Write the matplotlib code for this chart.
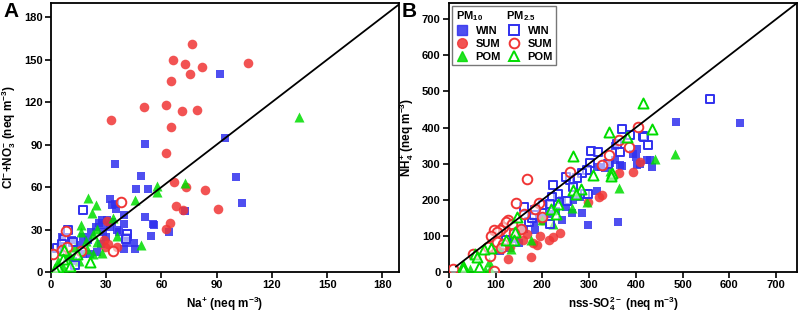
import matplotlib
matplotlib.use("Agg")
import matplotlib.pyplot as plt
from matplotlib.lines import Line2D

plt.rcParams['font.family'] = ['Liberation Sans', 'DejaVu Sans']
plt.rcParams['font.weight'] = 'bold'
plt.rcParams['mathtext.fontset'] = 'custom'
plt.rcParams['mathtext.rm'] = 'Liberation Sans:bold'
plt.rcParams['mathtext.bf'] = 'Liberation Sans:bold'
plt.rcParams['mathtext.it'] = 'Liberation Sans:bold'
plt.rcParams['mathtext.default'] = 'bf'

# ---------------- Panel A data (Na+ vs Cl- + NO3-) ----------------
a_win10_x = [92, 94.4, 51.3, 34.9, 49, 100.3, 46.3, 52.8, 104, 72.8, 51, 55.5, 56, 54.4, 64.2,
             32.2, 33, 35, 35.2, 39.8, 39.6, 45, 45.5, 39.6, 41, 26, 27.6, 30.2, 32, 24.2,
             21.7, 17.5, 20.2, 15.7, 17.5, 11.2, 4.9, 21.1, 24.8, 28, 30, 36, 42, 12, 6, 27,
             29, 33, 37]
a_win10_y = [139.6, 94.5, 90.2, 76.1, 67.7, 67, 58.5, 58.3, 48.9, 43, 38.5, 33.8, 33.5, 25.1, 28.2,
             51.5, 47.5, 48, 44.7, 40, 33.8, 20.7, 16.2, 16.2, 20.7, 34.5, 36.4, 36.4, 31.7, 31.7,
             28.2, 24.7, 22.3, 18.8, 12.9, 22.3, 16.5, 12.9, 14, 28, 25, 30, 25, 8, 25, 20,
             33, 35, 28]
a_sum10_x = [76.6, 66, 73, 81.9, 106.8, 75.7, 65.4, 32.4, 50.4, 62.2, 71.2, 79.2, 65.4, 62.4,
             66.9, 73.4, 83.9, 67.8, 71.9, 90.9, 64.7, 62.2, 30.2, 28.6, 29.5, 35.6, 31]
a_sum10_y = [161.2, 150, 147, 145, 147.8, 139.6, 135, 107.4, 116.3, 118.2, 113.5, 114.5, 102.5, 83.7,
             63.5, 60.2, 58, 46.3, 44, 44.2, 34.5, 30.3, 36.2, 22.3, 17.6, 17.6, 20]
a_pom10_x = [134.5, 72.7, 57.3, 57.6, 45.4, 20.2, 24.4, 22.2, 16.4, 16.4, 33.8, 36, 49, 24.8,
             27.5, 23, 24.8, 19, 13, 8.5, 4, 6.7, 19.3, 23, 10, 15]
a_pom10_y = [109.8, 62.7, 60.4, 56.4, 51.2, 52.4, 47.5, 41.8, 33.4, 28.4, 38.3, 25.4, 19.3, 30.6,
             13.4, 27, 21.2, 21.9, 17.6, 11, 7.5, 3.5, 16.5, 13, 13, 8]
a_win25_x = [17.2, 9.4, 12.1, 7, 41.2, 41, 13, 3.5, 6]
a_win25_y = [44, 29.4, 21.2, 23.5, 27, 23, 4.7, 17, 20]
a_sum25_x = [38, 8.3, 33.8, 16.3, 1.3, 5.8, 8.5]
a_sum25_y = [49.6, 28.7, 15, 15, 13, 15.7, 17.6]
a_pom25_x = [7, 21.1, 10.3, 4, 6.7, 13.9, 2]
a_pom25_y = [15.7, 7, 4.2, 3.5, 9.4, 12.9, 2]

# ---------------- Panel B data (nss-SO4 2- vs NH4+) ----------------
b_win10_x = [623.6, 485, 362, 297, 285, 316.4, 265.7, 242.9, 242.9, 262.9, 185, 183, 134.3, 130,
             109, 281, 325.7, 335, 343.6, 366.4, 371, 356, 355.7, 393.6, 399.3, 402, 403, 409,
             423.6, 430.7, 435, 316, 250, 215, 160, 150, 200, 230]
b_win10_y = [411.5, 414.3, 138.7, 131.3, 164.6, 225.6, 198.8, 200.7, 143.3, 163.7, 115.6, 138.7, 91.5, 65.7,
             58.3, 208, 291.3, 288, 302.4, 295, 293, 310, 349.6, 326.4, 319, 296, 341, 300,
             309.8, 309.8, 291, 291, 180, 160, 120, 80, 150, 170]
b_win25_x = [557.9, 370, 414.3, 417, 425.7, 387.9, 366.4, 305, 319.3, 301.4, 295, 285, 273.6, 259.3,
             250.7, 223.6, 234.3, 220.7, 202, 216.4, 183.6, 161.4, 170.7, 216.4, 138.6, 122, 177,
             291, 266, 252, 298.6, 181, 360, 340]
b_win25_y = [480, 395.8, 377.3, 373, 351.4, 379, 332.9, 335.7, 332.9, 302.4, 282, 272.8, 259, 254.3,
             263.5, 240.4, 217.3, 208, 185, 187.7, 171, 180.3, 138.7, 133.2, 106.3, 87.8, 150,
             217, 235, 198, 217.3, 157, 355, 300]
b_sum10_x = [409, 392.9, 364, 322, 327, 297, 237.9, 222.9, 213.6, 175, 126.4, 187.9, 180, 157.9,
             143.6, 152, 166, 195, 130, 200]
b_sum10_y = [303.3, 275.6, 272.8, 209, 212.7, 194, 109, 97, 87.8, 41.6, 37, 74, 80.5, 87.8,
             101.7, 115.6, 106, 100, 70, 145]
b_sum25_x = [404.3, 364.3, 385, 342, 327.9, 260, 167.9, 142.9, 161.4, 193.6, 184.3, 198.6, 153.6,
             127, 116, 109.3, 96.4, 103.6, 89.3, 122, 134, 102, 84, 87.9, 52, 9.3, 97, 116, 140, 111]
b_sum25_y = [402.3, 365.3, 345.8, 322.7, 295.9, 275.6, 258, 191.4, 161.8, 192.3, 175.7, 152.6, 120.2,
             143.3, 125, 117.4, 117.4, 111, 100.8, 138.7, 134, 84, 69, 43.5, 50.9, 9.2, 2.8, 78, 108, 67]
b_pom10_x = [482.9, 441.4, 364.3, 344.3, 349, 295, 264.3, 200, 175, 132.9, 105.7, 86.4, 76.4,
             44.3, 88, 222]
b_pom10_y = [325.5, 312.6, 234, 279.3, 270, 194, 178.5, 143.3, 87.8, 64.7, 68.4, 27.7, 6.5,
             9.2, 9, 134]
b_pom25_x = [414.3, 435, 342.9, 380.7, 266.4, 307.9, 347.9, 346, 266.4, 283.6, 271, 234.3, 219.3,
             229.3, 145, 140.7, 122, 139, 90.7, 75, 56.4, 60, 30.7, 30, 64]
b_pom25_y = [467, 395.8, 386.5, 374.5, 320.9, 268.2, 273.7, 266, 228.4, 229.3, 215.5, 189.6, 175.7,
             161.8, 152.6, 111, 89.7, 87.8, 66.6, 64.7, 50.9, 41.6, 16.6, 7.4, 13.6]

a_ticks = [0, 30, 60, 90, 120, 150, 180]
b_ticks = [0, 100, 200, 300, 400, 500, 600, 700]
season_labels = ["WIN", "SUM", "POM"]

BLUE = '#3030ee'
RED = '#f03535'
GREEN = '#00dd00'
OPEN_FACE = (1, 1, 1, 0.55)

fig = plt.figure(figsize=(7.99, 3.15), dpi=100)
axA = fig.add_axes([51/799, 1 - 272/315, 348/799, 269/315])
axB = fig.add_axes([449/799, 1 - 272/315, 348/799, 269/315])


def draw(ax, d):
    (w10x, w10y, s10x, s10y, p10x, p10y, w25x, w25y, s25x, s25y, p25x, p25y) = d
    kw_f = dict(alpha=0.85, linewidths=0, zorder=3)
    ax.scatter(w10x, w10y, marker='s', s=38, color=BLUE, **kw_f)
    ax.scatter(s10x, s10y, marker='o', s=48, color=RED, **kw_f)
    ax.scatter(p10x, p10y, marker='^', s=52, color=GREEN, **kw_f)
    kw_o = dict(facecolors=OPEN_FACE, linewidths=1.4, zorder=4)
    ax.scatter(w25x, w25y, marker='s', s=38, edgecolors=BLUE, **kw_o)
    ax.scatter(s25x, s25y, marker='o', s=48, edgecolors=RED, **kw_o)
    ax.scatter(p25x, p25y, marker='^', s=52, edgecolors=GREEN, **kw_o)


draw(axA, (a_win10_x, a_win10_y, a_sum10_x, a_sum10_y, a_pom10_x, a_pom10_y,
           a_win25_x, a_win25_y, a_sum25_x, a_sum25_y, a_pom25_x, a_pom25_y))
draw(axB, (b_win10_x, b_win10_y, b_sum10_x, b_sum10_y, b_pom10_x, b_pom10_y,
           b_win25_x, b_win25_y, b_sum25_x, b_sum25_y, b_pom25_x, b_pom25_y))

# 1:1 lines
axA.plot([0, 190], [0, 190], color='black', lw=1.3, zorder=5)
axB.plot([15, 745], [15, 745], color='black', lw=1.3, zorder=5)

for ax, lim, ticks in [(axA, 189, a_ticks), (axB, 745, b_ticks)]:
    ax.set_xlim(0, lim)
    ax.set_ylim(0, lim * (190 / 189) if lim == 189 else lim)
    ax.set_xticks(ticks)
    ax.set_yticks(ticks)
    ax.tick_params(direction='out', length=4, width=1.2, labelsize=8, pad=2,
                   top=False, right=False)
    for lab in ax.get_xticklabels() + ax.get_yticklabels():
        lab.set_fontweight('bold')
    for sp in ax.spines.values():
        sp.set_linewidth(1.3)

axA.set_xlabel(r'Na$^{+}$ (neq m$^{-3}$)', fontsize=8.5, fontweight='bold', labelpad=3)
axA.set_ylabel(r'Cl$^{-}$+NO$_{3}^{-}$ (neq m$^{-3}$)', fontsize=8.5, fontweight='bold', labelpad=4)
axB.set_xlabel(r'nss-SO$_{4}^{2-}$ (neq m$^{-3}$)', fontsize=8.5, fontweight='bold', labelpad=3)
axB.set_ylabel(r'NH$_{4}^{+}$ (neq m$^{-3}$)', fontsize=8.5, fontweight='bold', labelpad=4)

fig.text(0.004, 0.995, 'A', fontsize=15, fontweight='bold', va='top', ha='left')
fig.text(402/799, 0.995, 'B', fontsize=15, fontweight='bold', va='top', ha='left')

# legend
handles = [
    Line2D([], [], marker='s', ls='none', ms=6.5, mfc=BLUE, mec=BLUE, alpha=0.85),
    Line2D([], [], marker='o', ls='none', ms=7, mfc=RED, mec=RED, alpha=0.85),
    Line2D([], [], marker='^', ls='none', ms=7.5, mfc=GREEN, mec=GREEN, alpha=0.85),
    Line2D([], [], marker='s', ls='none', ms=6.5, mfc='white', mec=BLUE, mew=1.4),
    Line2D([], [], marker='o', ls='none', ms=7, mfc='white', mec=RED, mew=1.4),
    Line2D([], [], marker='^', ls='none', ms=7.5, mfc='white', mec=GREEN, mew=1.4),
]
labels = season_labels + season_labels
leg = axB.legend(handles, labels, ncol=2, loc='upper left', bbox_to_anchor=(0.0, 1.0),
                 title=r'PM$_{10}$        PM$_{2.5}$', alignment='left',
                 prop={'size': 8, 'weight': 'bold'}, title_fontproperties={'size': 8, 'weight': 'bold'},
                 frameon=True, fancybox=False, edgecolor='#555555', borderpad=0.3,
                 labelspacing=0.25, handletextpad=0.6, columnspacing=0.6, handlelength=1.2,
                 borderaxespad=0.3)
leg.get_frame().set_linewidth(1.0)

fig.savefig('out.png', dpi=100)
